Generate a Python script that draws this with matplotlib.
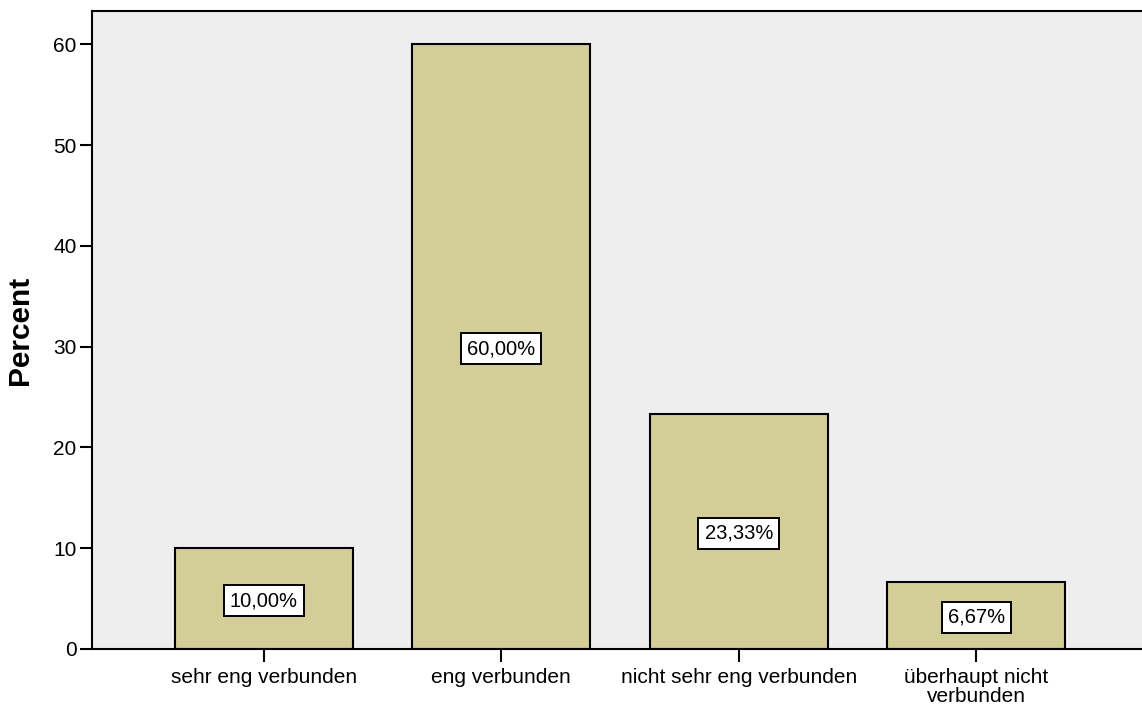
import matplotlib.pyplot as plt

# Share of respondents per category
categories = ['sehr eng verbunden', 'eng verbunden', 'nicht sehr eng verbunden',
              'überhaupt nicht\nverbunden']
percent = [10.00, 60.00, 23.33, 6.67]
value_labels = ['10,00%', '60,00%', '23,33%', '6,67%']

plt.rcParams['font.family'] = ['Liberation Sans', 'DejaVu Sans']

fig = plt.figure(figsize=(11.42, 7.08), dpi=100)
ax = fig.add_axes([92 / 1142, 59 / 708, 1056 / 1142, 638 / 708])
ax.set_facecolor('#EEEEEE')

x = range(len(categories))
ax.bar(x, percent, width=0.75, color='#D3CE97', edgecolor='black', linewidth=1.5, zorder=2)

for i, (v, lab) in enumerate(zip(percent, value_labels)):
    ax.text(i, v / 2, lab, ha='center', va='center_baseline', fontsize=14.5, zorder=3,
            bbox=dict(boxstyle='square,pad=0.3', facecolor='white', edgecolor='black', linewidth=1.4))

ax.set_xlim(-0.724, 3.724)
ax.set_ylim(0, 63.3)
ax.set_yticks([0, 10, 20, 30, 40, 50, 60])
ax.set_xticks(list(x))
ax.set_xticklabels(categories, linespacing=0.95)
ax.tick_params(axis='both', labelsize=15, width=1.5, length=9, direction='out')
ax.tick_params(axis='x', pad=5)
ax.tick_params(axis='y', pad=2)
for s in ax.spines.values():
    s.set_linewidth(1.5)

ax.set_ylabel('Percent', fontsize=21.5, fontweight='bold', labelpad=14)

fig.savefig('out.png', dpi=100)
